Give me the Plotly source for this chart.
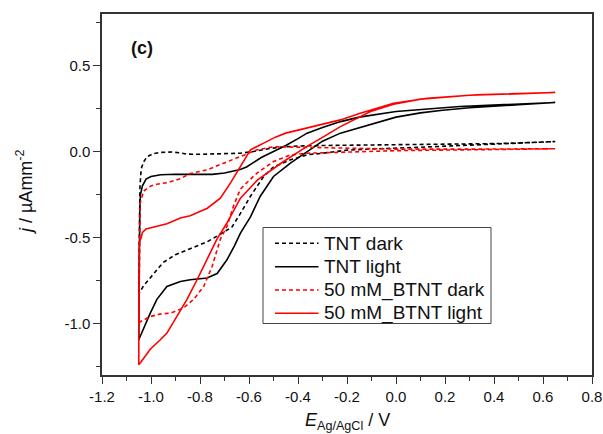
import plotly.graph_objects as go

# ---------------- data ----------------
E_tnt_dark = [-1.05, -1.048, -1.045, -1.04, -1.03, -1.016, -0.99, -0.96, -0.914, -0.88, -0.853, -0.80, -0.771,
              -0.705, -0.636, -0.582, -0.513, -0.45, -0.4, -0.3, -0.2, 0.0, 0.2, 0.4, 0.55, 0.65,
              0.5, 0.3, 0.1, -0.1, -0.2, -0.3, -0.363, -0.43, -0.5, -0.54, -0.567, -0.594, -0.635, -0.67,
              -0.716, -0.77, -0.84, -0.9, -0.95, -0.99, -1.03, -1.05]
j_tnt_dark = [-0.83, -0.45, -0.2, -0.1, -0.06, -0.03, -0.012, -0.005, -0.003, -0.008, -0.015, -0.016, -0.015,
              -0.015, -0.01, 0.0, 0.018, 0.028, 0.032, 0.035, 0.036, 0.038, 0.04, 0.046, 0.052, 0.058,
              0.045, 0.035, 0.025, 0.015, 0.008, -0.01, -0.019, -0.048, -0.09, -0.145, -0.2, -0.26, -0.36, -0.44,
              -0.48, -0.525, -0.565, -0.6, -0.645, -0.71, -0.78, -0.83]

E_tnt_light = [-1.05, -1.048, -1.046, -1.043, -1.035, -1.02, -1.0, -0.96, -0.9, -0.82, -0.75, -0.7, -0.67,
               -0.636, -0.61, -0.58, -0.55, -0.5, -0.45, -0.4, -0.363, -0.3, -0.226, -0.15, 0.0, 0.26, 0.5, 0.65,
               0.5, 0.3, 0.19, 0.1, 0.0, -0.078, -0.146, -0.227, -0.3, -0.363, -0.431, -0.5, -0.554, -0.594,
               -0.635, -0.66, -0.69, -0.73, -0.771, -0.84, -0.88, -0.935, -0.976, -1.003, -1.044, -1.05]
j_tnt_light = [-1.095, -0.6, -0.35, -0.25, -0.2, -0.16, -0.145, -0.135, -0.132, -0.133, -0.133, -0.125, -0.116,
               -0.105, -0.09, -0.06, -0.035, 0.0, 0.035, 0.075, 0.107, 0.14, 0.174, 0.2, 0.233, 0.262, 0.277, 0.285,
               0.272, 0.255, 0.24, 0.225, 0.2, 0.169, 0.14, 0.107, 0.06, 0.0, -0.067, -0.145, -0.26, -0.38,
               -0.475, -0.55, -0.63, -0.71, -0.736, -0.746, -0.756, -0.785, -0.86, -0.94, -1.076, -1.095]

E_btnt_dark = [-1.05, -1.048, -1.046, -1.044, -1.03, -1.0, -0.976, -0.93, -0.88, -0.84, -0.77, -0.705, -0.636,
               -0.567, -0.5, -0.4, -0.2, 0.0, 0.3, 0.65,
               0.3, 0.0, -0.104, -0.363, -0.431, -0.5, -0.527, -0.567, -0.608, -0.636, -0.664, -0.69, -0.717,
               -0.73, -0.751, -0.785, -0.826, -0.867, -0.921, -0.962, -1.003, -1.044, -1.05]
j_btnt_dark = [-1.0, -0.6, -0.35, -0.3, -0.23, -0.2, -0.19, -0.18, -0.158, -0.128, -0.106, -0.068, -0.029,
               0.01, 0.028, 0.025, 0.018, 0.014, 0.014, 0.016,
               0.01, 0.005, 0.0, -0.01, -0.02, -0.058, -0.085, -0.125, -0.18, -0.22, -0.32, -0.436, -0.51,
               -0.57, -0.67, -0.785, -0.86, -0.91, -0.94, -0.945, -0.96, -0.99, -1.0]

E_btnt_light = [-1.05, -1.048, -1.04, -1.035, -1.02, -0.976, -0.935, -0.88, -0.84, -0.77, -0.717, -0.676, -0.636,
                -0.594, -0.54, -0.49, -0.45, -0.363, -0.227, -0.146, -0.01, 0.127, 0.33, 0.65,
                0.3, 0.1, -0.01, -0.104, -0.227, -0.295, -0.363, -0.459, -0.565, -0.635, -0.69, -0.731, -0.771,
                -0.812, -0.853, -0.894, -0.935, -0.962, -1.003, -1.044, -1.05]
j_btnt_light = [-1.24, -0.53, -0.5, -0.47, -0.45, -0.436, -0.42, -0.387, -0.374, -0.33, -0.271, -0.184, -0.087,
                0.01, 0.049, 0.085, 0.107, 0.136, 0.184, 0.223, 0.281, 0.31, 0.33, 0.343,
                0.327, 0.305, 0.275, 0.233, 0.145, 0.087, 0.03, -0.058, -0.165, -0.271, -0.416, -0.51, -0.63,
                -0.746, -0.86, -0.96, -1.056, -1.095, -1.15, -1.23, -1.24]

series_names = ["TNT dark", "TNT light", "50 mM_BTNT dark", "50 mM_BTNT light"]

x_tick_vals = [-1.2, -1.0, -0.8, -0.6, -0.4, -0.2, 0.0, 0.2, 0.4, 0.6, 0.8]
x_tick_text = [f"{v:.1f}" for v in x_tick_vals]
y_tick_vals = [-1.0, -0.5, 0.0, 0.5]
y_tick_text = [f"{v:.1f}" for v in y_tick_vals]

# ---------------- styling ----------------
FONT = "Liberation Sans, Arial, sans-serif"
TXT = "#111111"
FRAME = "#333333"
BLACK = "#000000"
RED = "#ff0000"
DASH = "4px,3px"
LW = 1.6

W, H = 603, 434
ML, MR, MT, MB = 102, 11, 14, 59
PW, PH = W - ML - MR, H - MT - MB


def px_x(px):
    return (px - ML) / PW


def px_y(py):
    return (H - MB - py) / PH


fig = go.Figure()
specs = [
    (E_tnt_dark, j_tnt_dark, BLACK, DASH),
    (E_tnt_light, j_tnt_light, BLACK, "solid"),
    (E_btnt_dark, j_btnt_dark, RED, DASH),
    (E_btnt_light, j_btnt_light, RED, "solid"),
]
for name, (xs, ys, col, dash) in zip(series_names, specs):
    fig.add_trace(go.Scatter(x=xs, y=ys, mode="lines", name=name, showlegend=False,
                             line=dict(color=col, width=LW, dash=dash)))

axis_common = dict(showline=True, linecolor=FRAME, linewidth=1.5, mirror=True,
                   ticks="outside", ticklen=7, tickwidth=1.2, tickcolor=FRAME,
                   showgrid=False, zeroline=False, automargin=False,
                   tickfont=dict(family=FONT, size=15, color=TXT))

fig.update_xaxes(range=[-1.2, 0.8], tickmode="array", tickvals=x_tick_vals, ticktext=x_tick_text,
                 minor=dict(ticks="outside", ticklen=4, tickwidth=1.2, tickcolor=FRAME,
                            tickmode="linear", tick0=-1.2, dtick=0.1, showgrid=False),
                 **axis_common)
fig.update_yaxes(range=[-1.3, 0.8], tickmode="array", tickvals=y_tick_vals, ticktext=y_tick_text,
                 minor=dict(ticks="outside", ticklen=4, tickwidth=1.2, tickcolor=FRAME,
                            tickmode="linear", tick0=-1.25, dtick=0.25, showgrid=False),
                 **axis_common)

# ---------------- hand-drawn legend (box, samples, labels) ----------------
shapes = [dict(type="rect", xref="paper", yref="paper",
               x0=px_x(263), x1=px_x(491), y0=px_y(323.5), y1=px_y(227.5),
               line=dict(color="#444444", width=1), fillcolor="white", layer="above")]
annotations = []
row_px = [243.3, 266.7, 290.0, 313.3]
for name, (_, _, col, dash), ry in zip(series_names, specs, row_px):
    shapes.append(dict(type="line", xref="paper", yref="paper",
                       x0=px_x(275), x1=px_x(318.5), y0=px_y(ry), y1=px_y(ry),
                       line=dict(color=col, width=LW, dash=dash), layer="above"))
    annotations.append(dict(text=name, x=px_x(322), y=px_y(ry), xref="paper", yref="paper",
                            xanchor="left", yanchor="middle", showarrow=False,
                            font=dict(family=FONT, size=19, color=TXT)))

annotations += [
    dict(text="<b>(c)</b>", x=px_x(129), y=px_y(48), xref="paper", yref="paper",
         xanchor="left", yanchor="middle", showarrow=False,
         font=dict(family=FONT, size=18, color=TXT)),
    dict(text="<i>E</i><sub>Ag/AgCl</sub> / V", x=0.5, y=px_y(421), xref="paper", yref="paper",
         xanchor="center", yanchor="middle", showarrow=False,
         font=dict(family=FONT, size=18, color=TXT)),
    dict(text="<i>j</i> / µAmm<sup>-2</sup>", x=px_x(25), y=px_y(192), xref="paper", yref="paper",
         xanchor="center", yanchor="middle", showarrow=False, textangle=-90,
         font=dict(family=FONT, size=18, color=TXT)),
]

fig.update_layout(
    width=W, height=H, autosize=False,
    margin=dict(l=ML, r=MR, t=MT, b=MB, pad=0, autoexpand=False),
    paper_bgcolor="white", plot_bgcolor="white",
    font=dict(family=FONT, size=15, color=TXT),
    showlegend=False,
    shapes=shapes,
    annotations=annotations,
)

fig.write_html("out.html", config={"responsive": False})
